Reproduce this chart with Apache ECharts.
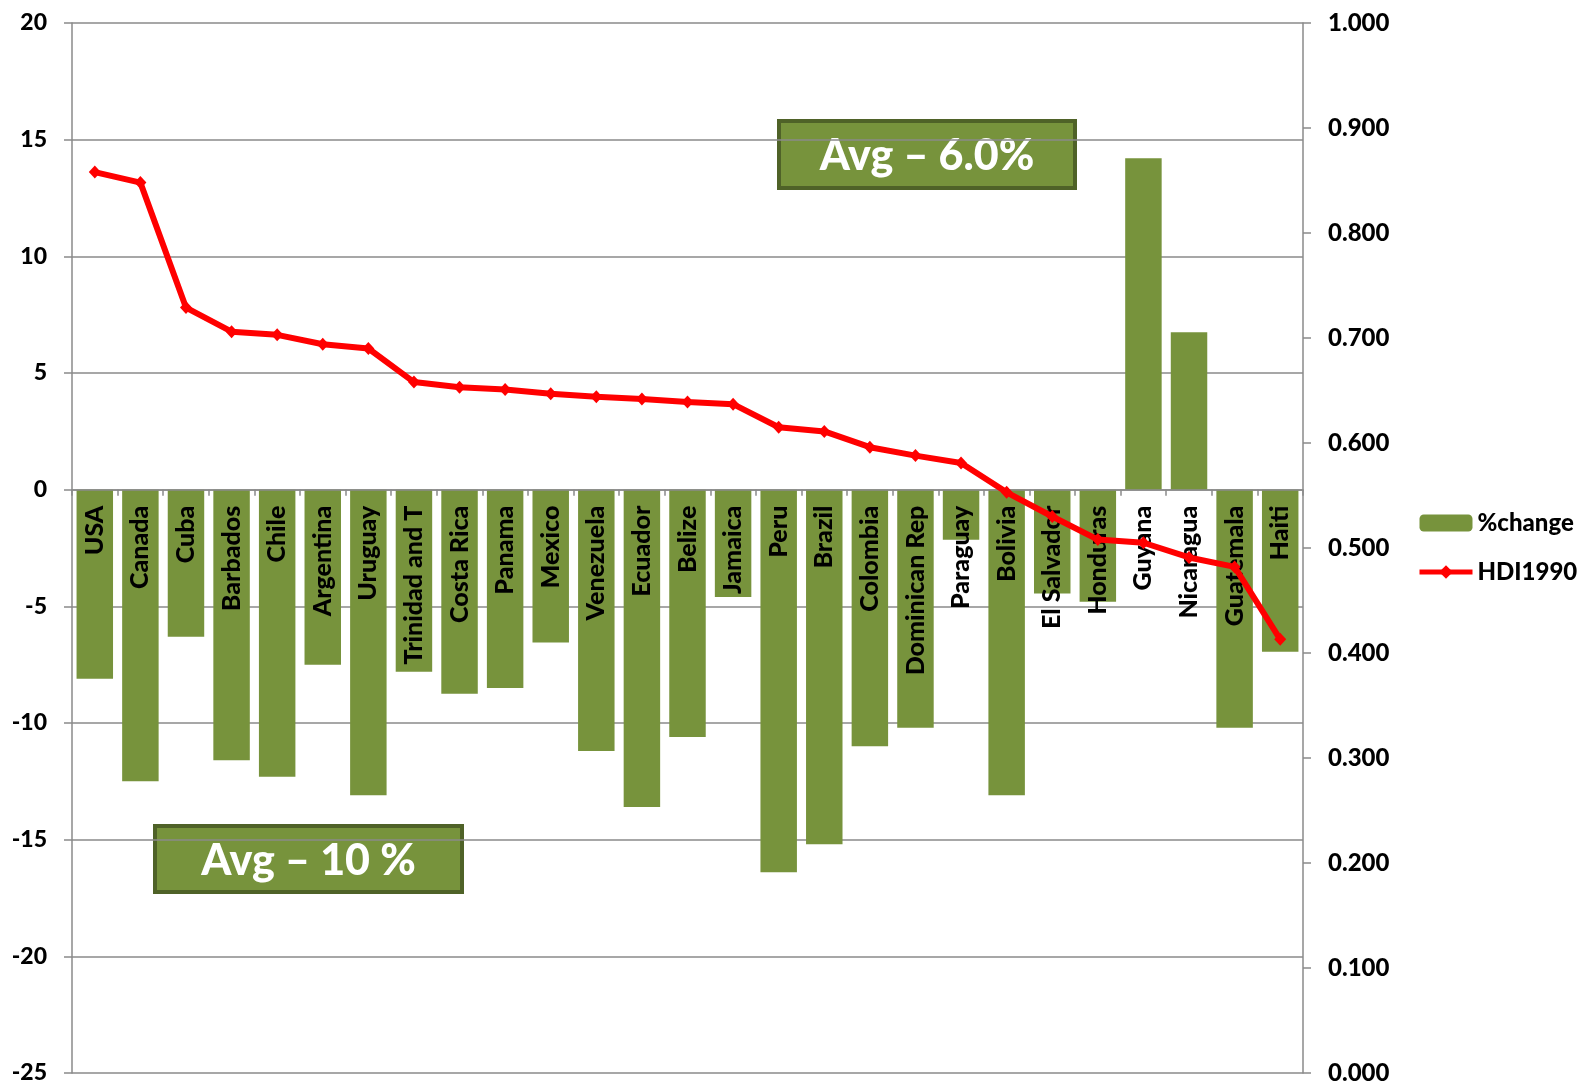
<!DOCTYPE html>
<html>
<head>
<meta charset="utf-8">
<script src="https://cdn.jsdelivr.net/npm/echarts@6/dist/echarts.min.js"></script>
<style>
  html, body { margin: 0; padding: 0; background: #fff; }
  #chart { width: 1579px; height: 1084px; }
</style>
</head>
<body>
<div id="chart"></div>
<script>
// countries, sorted by HDI in 1990
var countries = ['USA', 'Canada', 'Cuba', 'Barbados', 'Chile', 'Argentina', 'Uruguay', 'Trinidad and T',
  'Costa Rica', 'Panama', 'Mexico', 'Venezuela', 'Ecuador', 'Belize', 'Jamaica', 'Peru', 'Brazil',
  'Colombia', 'Dominican Rep', 'Paraguay', 'Bolivia', 'El Salvador', 'Honduras', 'Guyana', 'Nicaragua',
  'Guatemala', 'Haiti'];
var pctChange = [-8.1, -12.5, -6.3, -11.6, -12.3, -7.5, -13.1, -7.8,
  -8.75, -8.5, -6.55, -11.2, -13.6, -10.6, -4.6, -16.4, -15.2,
  -11.0, -10.2, -2.15, -13.1, -4.45, -4.8, 14.2, 6.75,
  -10.2, -6.95];
var hdi1990 = [0.858, 0.848, 0.729, 0.706, 0.703, 0.694, 0.690, 0.658,
  0.653, 0.651, 0.647, 0.644, 0.642, 0.639, 0.637, 0.615, 0.611,
  0.596, 0.588, 0.581, 0.553, 0.530, 0.508, 0.505, 0.491,
  0.482, 0.413];
var pctMin = -25, pctMax = 20;

var FONT = 'Lato';
var GREEN = '#77933C';
var GREY = '#8a8a8a';

var gridTop = 23, gridBottom = 11, H = 1084;
// move the category axis up to the zero line of the left axis
var zeroOffset = -(H - gridTop - gridBottom) * (0 - pctMin) / (pctMax - pctMin);

// annotation boxes
function avgBox(x, y, w, h, txt) {
  return {
    type: 'group', left: x, top: y, z: -1,
    children: [
      { type: 'rect', shape: { width: w, height: h }, style: { fill: GREEN, stroke: '#4F6228', lineWidth: 4 } },
      { type: 'text', x: w / 2, y: h / 2 + 2,
        style: { text: txt, fill: '#fff', font: '900 43px ' + FONT, textAlign: 'center', textVerticalAlign: 'middle' } }
    ]
  };
}

var chart = echarts.init(document.getElementById('chart'));
chart.setOption({
  animation: false,
  textStyle: { fontFamily: FONT },
  grid: { left: 72, right: 276, top: gridTop, bottom: gridBottom, containLabel: false, outerBoundsMode: 'none' },
  legend: {
    orient: 'vertical',
    left: 1412, top: 506,
    itemWidth: 53, itemHeight: 17, itemGap: 25,
    lineStyle: { width: 5 },
    textStyle: { fontSize: 24, fontWeight: 900, color: '#000', fontFamily: FONT },
    data: ['%change', 'HDI1990']
  },
  xAxis: {
    type: 'category',
    data: countries,
    position: 'bottom',
    offset: zeroOffset,
    z: 3,
    axisLine: { onZero: false, lineStyle: { color: GREY, width: 1.5 } },
    axisTick: { show: true, length: 6, lineStyle: { color: GREY, width: 1.5 } },
    axisLabel: {
      rotate: 90, interval: 0, margin: 16,
      fontSize: 25, fontWeight: 900, color: '#000', fontFamily: FONT
    }
  },
  yAxis: [
    {
      type: 'value', min: pctMin, max: pctMax, interval: 5, position: 'left',
      axisLine: { show: true, lineStyle: { color: GREY, width: 1.5 } },
      axisTick: { show: true, length: 8, lineStyle: { color: GREY, width: 1.5 } },
      splitLine: { show: true, lineStyle: { color: GREY, width: 1.5 } },
      axisLabel: { margin: 25, fontSize: 23, fontWeight: 900, color: '#000', fontFamily: FONT }
    },
    {
      type: 'value', min: 0, max: 1, interval: 0.1, position: 'right',
      axisLine: { show: true, lineStyle: { color: GREY, width: 1.5 } },
      axisTick: { show: true, length: 8, lineStyle: { color: GREY, width: 1.5 } },
      splitLine: { show: false },
      axisLabel: {
        margin: 25, fontSize: 24, fontWeight: 900, color: '#000', fontFamily: FONT,
        formatter: function (v) { return v.toFixed(3); }
      }
    }
  ],
  series: [
    {
      name: '%change', type: 'bar', yAxisIndex: 0,
      data: pctChange,
      barCategoryGap: '20%',
      itemStyle: { color: GREEN },
      z: 2
    },
    {
      name: 'HDI1990', type: 'line', yAxisIndex: 1,
      data: hdi1990,
      symbol: 'diamond', symbolSize: [12, 13],
      lineStyle: { color: '#ff0000', width: 6 },
      itemStyle: { color: '#ff0000' },
      z: 5
    }
  ],
  graphic: [
    avgBox(777, 119, 296, 67, 'Avg \u2013 6.0%'),
    avgBox(153, 824, 307, 66, 'Avg \u2013 10 %')
  ]
});
</script>
</body>
</html>
